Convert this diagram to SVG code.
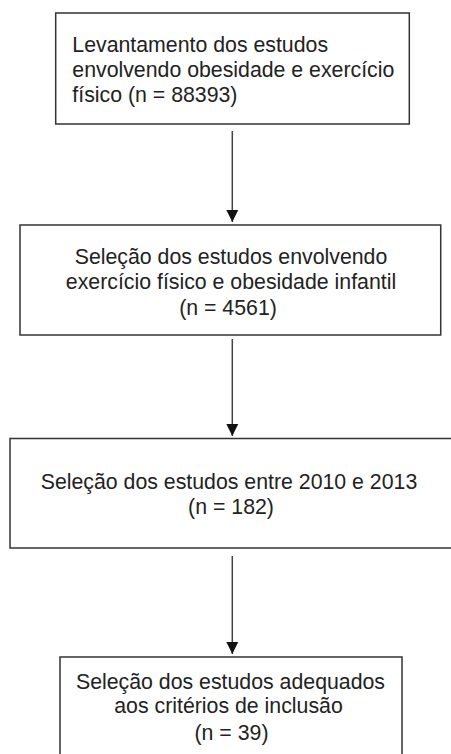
<svg xmlns="http://www.w3.org/2000/svg" width="451" height="754" viewBox="0 0 451 754">
<style>
.box{fill:#fff;stroke:#333;stroke-width:1.5}
.t{font-family:"Liberation Sans",Arial,sans-serif;font-size:21.3px;fill:#222}
.c{text-anchor:middle}
.ln{stroke:#444;stroke-width:1.5;fill:none}
</style>
<defs>
<marker id="ah" markerUnits="userSpaceOnUse" markerWidth="13" markerHeight="12" refX="12" refY="6" orient="auto" viewBox="0 0 13 12">
<path d="M0,0 L12,6 L0,12 Z" fill="#111"/>
</marker>
</defs>
<rect width="451" height="754" fill="#fff"/>
<g id="connectors">
<line class="ln" x1="232.3" y1="131" x2="232.3" y2="222" marker-end="url(#ah)"/>
<line class="ln" x1="232.3" y1="339" x2="232.3" y2="436" marker-end="url(#ah)"/>
<line class="ln" x1="232.3" y1="556" x2="232.3" y2="654" marker-end="url(#ah)"/>
</g>
<g id="n1">
<rect class="box" x="55.7" y="13" width="353.6" height="111"/>
<text class="t" x="72.3" y="52.3">Levantamento dos estudos</text>
<text class="t" x="72.3" y="76.8">envolvendo obesidade e exercício</text>
<text class="t" x="72.3" y="101.5">físico (n = 88393)</text>
</g>
<g id="n2">
<rect class="box" x="20" y="225" width="420.7" height="110"/>
<text class="t c" x="231" y="264.3">Seleção dos estudos envolvendo</text>
<text class="t c" x="231" y="289">exercício físico e obesidade infantil</text>
<text class="t c" x="228" y="315">(n = 4561)</text>
</g>
<g id="n3">
<rect class="box" x="10" y="438.5" width="460" height="109.5"/>
<text class="t c" x="229" y="489">Seleção dos estudos entre 2010 e 2013</text>
<text class="t c" x="231" y="514.3">(n = 182)</text>
</g>
<g id="n4">
<rect class="box" x="60" y="657" width="342" height="110"/>
<text class="t c" x="230.5" y="689">Seleção dos estudos adequados</text>
<text class="t c" x="228.5" y="713">aos critérios de inclusão</text>
<text class="t c" x="231.5" y="740">(n = 39)</text>
</g>
</svg>
